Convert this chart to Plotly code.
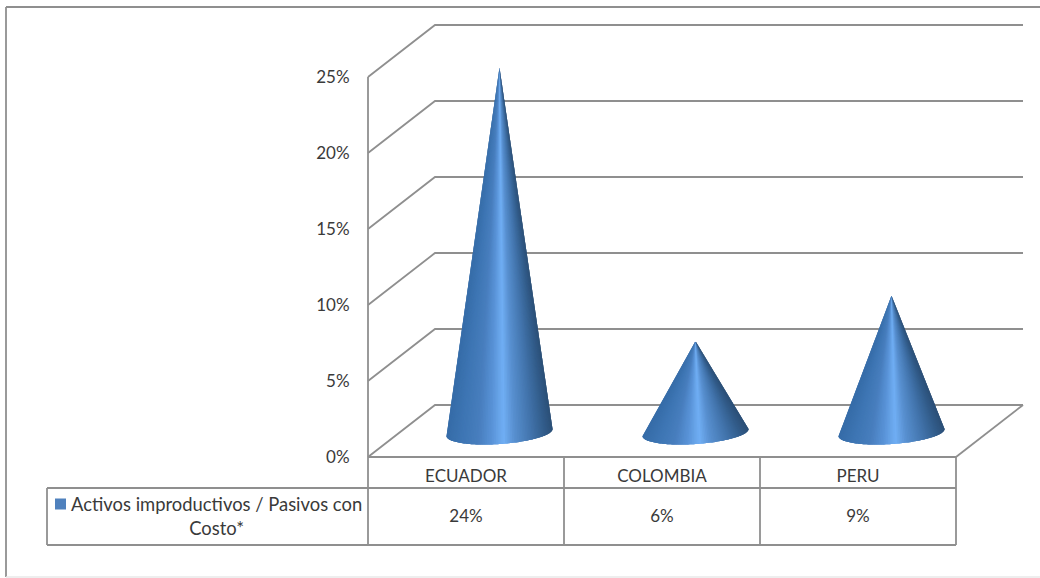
import math
import plotly.graph_objects as go

# Chart content
categories = ["ECUADOR", "COLOMBIA", "PERU"]
series_name = "Activos improductivos / Pasivos con<br>Costo*"
series_values = [24, 6, 9]
axis_ticks = [0, 5, 10, 15, 20, 25]
axis_tick_labels = ["0%", "5%", "10%", "15%", "20%", "25%"]

# Page and plot geometry, in pixels
WIDTH, HEIGHT = 1040, 578
LEFT, RIGHT, FLOOR, TOP = 368, 956, 457, 77
PX_X = (RIGHT - LEFT) / len(categories)
PX_Y = (FLOOR - TOP) / axis_ticks[-1]

# Axis windows spanning the whole page, so the table and walls stay inside the clip area
X_MIN, X_MAX = -0.5, len(categories) - 0.5
VIEW_X = [X_MIN - LEFT / PX_X, X_MIN + (WIDTH - LEFT) / PX_X]
VIEW_Y = [-(HEIGHT - FLOOR) / PX_Y, FLOOR / PX_Y]

# Oblique offset of the back wall, in axis units
DEPTH_X = 67 / PX_X
DEPTH_Y = 52 / PX_Y

# Row boundaries of the data table, in axis units
ROW_1 = -31 / PX_Y
ROW_2 = -88 / PX_Y
TABLE_LEFT = X_MIN - (LEFT - 47) / PX_X

LINE = "#8f8f8f"
TEXT = "#3a3a3a"
FONT = "Lato"
FONT_SIZE = 17

# Cone shading from the left edge to the right edge of the silhouette
SHADE = [
    (0.00, (54, 108, 168)),
    (0.15, (62, 118, 180)),
    (0.30, (72, 126, 190)),
    (0.42, (88, 146, 214)),
    (0.54, (112, 174, 244)),
    (0.64, (88, 144, 208)),
    (0.80, (66, 116, 172)),
    (0.93, (50, 92, 138)),
    (1.00, (44, 80, 120)),
]

fig = go.Figure()


def shade_at(u):
    for (u0, c0), (u1, c1) in zip(SHADE, SHADE[1:]):
        if u <= u1:
            k = (u - u0) / (u1 - u0)
            r, g, b = (round(a + (z - a) * k) for a, z in zip(c0, c1))
            return f"rgb({r},{g},{b})"
    return "rgb(44,80,120)"


def add_line(xs, ys, color=LINE, width=1.8):
    fig.add_trace(go.Scatter(
        x=xs, y=ys, mode="lines", showlegend=False,
        hoverinfo="skip", line=dict(color=color, width=width),
    ))


def add_cone(position, value):
    """One cone standing mid-depth on the floor, painted left to right as overlapping wedges."""
    radius_x = 53 / PX_X
    tilt = 3.5 / PX_Y
    radius_y = 11.5 / PX_Y
    base_x = position + DEPTH_X / 2
    base_y = 1.61
    apex_y = base_y + value
    steps = 90
    overlap = 3

    angles = [math.pi * (1 - i / steps) for i in range(steps + 1)]
    rim_x = [base_x + radius_x * math.cos(t) for t in angles]
    rim_y = [base_y + tilt * math.cos(t) - radius_y * math.sin(t) for t in angles]

    for i in range(steps):
        end = min(i + overlap, steps) + 1
        mid = (angles[i] + angles[i + 1]) / 2
        fig.add_trace(go.Scatter(
            x=[base_x] + rim_x[i:end] + [base_x],
            y=[apex_y] + rim_y[i:end] + [apex_y],
            mode="none", fill="toself",
            fillcolor=shade_at((1 + math.cos(mid)) / 2),
            showlegend=False, hoverinfo="skip",
        ))


# Side wall and back wall gridlines, one oblique run per tick
for tick in axis_ticks:
    add_line(
        [X_MIN, X_MIN + DEPTH_X, X_MAX + DEPTH_X],
        [tick, tick + DEPTH_Y, tick + DEPTH_Y],
    )

# Right edge of the floor
add_line([X_MAX, X_MAX + DEPTH_X], [0, DEPTH_Y])

# Cones
for index, value in enumerate(series_values):
    add_cone(index, value)

# Data table grid under the axis
add_line([X_MIN, X_MIN], [axis_ticks[-1], ROW_2])
add_line([X_MIN, X_MAX], [0, 0])
add_line([TABLE_LEFT, X_MAX], [ROW_1, ROW_1])
add_line([TABLE_LEFT, X_MAX], [ROW_2, ROW_2])
add_line([TABLE_LEFT, TABLE_LEFT], [ROW_1, ROW_2])
add_line([X_MAX, X_MAX], [0, ROW_2])
for boundary in range(1, len(categories)):
    add_line([boundary - 0.5, boundary - 0.5], [0, ROW_2])

# Values row
fig.add_trace(go.Scatter(
    x=list(range(len(categories))),
    y=[(ROW_1 + ROW_2) / 2 - 0.07] * len(categories),
    text=[f"{v}%" for v in series_values],
    mode="text", textposition="middle center",
    textfont=dict(family=FONT, size=FONT_SIZE, color=TEXT),
    showlegend=False, hoverinfo="skip",
))

# Series key in the table's first column
fig.add_trace(go.Scatter(
    x=[TABLE_LEFT + 13.5 / PX_X], y=[ROW_1 - 16 / PX_Y],
    mode="markers", showlegend=False, hoverinfo="skip",
    marker=dict(symbol="square", size=11, color="#4f81bd", line=dict(width=0)),
))
fig.add_annotation(
    x=TABLE_LEFT + 169 / PX_X, y=(ROW_1 + ROW_2) / 2 + 0.05,
    xref="x", yref="y", text=series_name, showarrow=False, align="center",
    font=dict(family=FONT, size=18.4, color=TEXT),
)

fig.update_layout(
    width=WIDTH,
    height=HEIGHT,
    autosize=False,
    margin=dict(l=0, r=0, t=0, b=0, pad=0, autoexpand=False),
    paper_bgcolor="white",
    plot_bgcolor="rgba(0,0,0,0)",
    showlegend=False,
    xaxis=dict(
        domain=[0, 1],
        range=VIEW_X,
        anchor="free",
        position=(HEIGHT - FLOOR) / HEIGHT,
        tickmode="array",
        tickvals=list(range(len(categories))),
        ticktext=categories,
        ticks="outside", ticklen=4, tickcolor="rgba(0,0,0,0)",
        showgrid=False, zeroline=False, showline=False,
        tickfont=dict(family=FONT, size=FONT_SIZE, color=TEXT),
    ),
    yaxis=dict(
        domain=[0, 1],
        range=VIEW_Y,
        anchor="free",
        position=LEFT / WIDTH,
        tickmode="array",
        tickvals=axis_ticks,
        ticktext=axis_tick_labels,
        ticks="outside", ticklen=15, tickcolor="rgba(0,0,0,0)",
        showgrid=False, zeroline=False, showline=False,
        tickfont=dict(family=FONT, size=FONT_SIZE, color=TEXT),
    ),
    shapes=[
        # Chart frame: left and top edges, and a faint bottom edge
        dict(type="line", xref="paper", yref="paper",
             x0=6 / WIDTH, x1=6 / WIDTH, y0=1 / HEIGHT, y1=1 - 7 / HEIGHT,
             line=dict(color=LINE, width=1.8)),
        dict(type="line", xref="paper", yref="paper",
             x0=6 / WIDTH, x1=1, y0=1 - 7 / HEIGHT, y1=1 - 7 / HEIGHT,
             line=dict(color=LINE, width=1.8)),
        dict(type="line", xref="paper", yref="paper",
             x0=6 / WIDTH, x1=1, y0=1 / HEIGHT, y1=1 / HEIGHT,
             line=dict(color="#e9e9e9", width=1.5)),
    ],
)

fig.write_html("out.html")
